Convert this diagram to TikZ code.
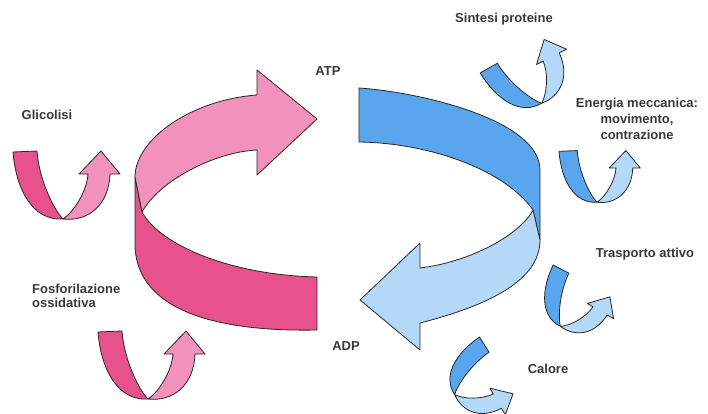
\documentclass[tikz,border=0pt]{standalone}
\usepackage{fontspec}
\setmainfont{Liberation Sans}
\definecolor{pinkD}{HTML}{E8528C}
\definecolor{pinkL}{HTML}{F291BB}
\definecolor{blueD}{HTML}{5AA6EE}
\definecolor{blueL}{HTML}{B3D8F8}
\begin{document}
\begin{tikzpicture}[x=1pt,y=-1pt,
  band/.style={draw=black!85, line width=0.8pt, line join=round},
  lbl/.style={font=\fontsize{13}{16}\selectfont\bfseries, text=black!78, inner sep=0pt},
  udark/.style={fill=pinkD}, ulight/.style={fill=pinkL},
  pinkset/.style={udark/.style={fill=pinkD}, ulight/.style={fill=pinkL}},
  blueset/.style={udark/.style={fill=blueD}, ulight/.style={fill=blueL}},
  % small twisted U-shaped arrow, origin at the twist
  pics/uarrow/.style={code={
    \path[band, udark] (-50,-68) -- (-26,-69) .. controls (-24,-40) and (-9,-10) .. (0,-1)
      .. controls (-30,1) and (-47,-30) .. (-50,-68) -- cycle;
    \path[band, ulight] (0,-1) .. controls (12,-9) and (24,-30) .. (25,-46) -- (16,-46)
      -- (38,-69) -- (57,-46) -- (47,-46) .. controls (46,-15) and (25,2) .. (0,-1) -- cycle;
  }}
]
\path[use as bounding box] (0,0) rectangle (708,414);

% large pink ribbon: ADP -> ATP
\path[band, fill=pinkD] (135,177) -- (142,212) .. controls (160,245) and (230,275) .. (317,277)
  -- (317,330) .. controls (215,332) and (138,310) .. (135,247) -- cycle;
\path[band, fill=pinkL] (135,177) .. controls (135,140) and (190,100) .. (257,95)
  -- (257,70) -- (317,119) -- (257,175) -- (257,150)
  .. controls (215,152) and (160,180) .. (142,212) -- cycle;

% large blue ribbon: ATP -> ADP
\path[band, fill=blueD] (359,88) .. controls (420,92) and (540,120) .. (540,170)
  -- (540,240) -- (533,210) .. controls (505,170) and (430,143) .. (359,142) -- cycle;
\path[band, fill=blueL] (533,210) .. controls (520,235) and (470,262) .. (420,268)
  -- (420,243) -- (360,300) -- (420,350) -- (420,323)
  .. controls (490,305) and (540,280) .. (540,240) -- cycle;

% small ribbons
\begin{scope}[pinkset]
  \pic at (63,220) {uarrow};
  \pic at (148,400) {uarrow};
\end{scope}
\begin{scope}[blueset]
  \pic[scale=0.76] at (597,203) {uarrow};
  \pic[rotate=27, scale=0.82] at (542,104) {uarrow};
  \pic[rotate=-30, scale=0.74] at (560,327) {uarrow};
  \pic[rotate=-60, scale=0.75] at (454,395) {uarrow};
\end{scope}

% labels
\node[lbl] (atp) at (328,71) {ATP};
\node[lbl] (adp) at (346,346) {ADP};
\node[lbl] (glic) at (47,115) {Glicolisi};
\node[lbl, anchor=west, align=left, font=\fontsize{13}{14.5}\selectfont\bfseries] (fosf) at (32,296) {Fosforilazione\\ossidativa};
\node[lbl] (sint) at (504,19) {Sintesi proteine};
\node[lbl, align=center] (ener) at (637,119) {Energia meccanica:\\movimento,\\contrazione};
\node[lbl] (trasp) at (645,254) {Trasporto attivo};
\node[lbl] (cal) at (548,369) {Calore};
\end{tikzpicture}
\end{document}
